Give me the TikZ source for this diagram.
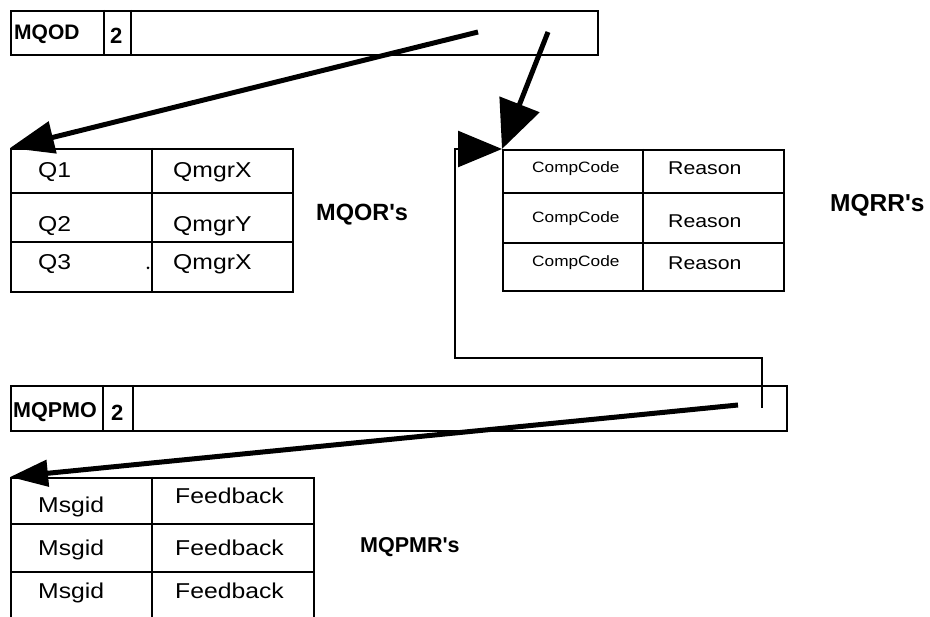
\documentclass[tikz,border=0pt]{standalone}
\usepackage{fontspec}
\setmainfont{Liberation Sans}[FakeStretch=1.15,BoldFeatures={FakeStretch=1.0}]
\usetikzlibrary{arrows.meta}
\tikzset{
  frame/.style={draw,line width=2.4pt,inner sep=0pt,anchor=north west},
  rule/.style={line width=2.4pt},
  txt/.style={anchor=base west,inner sep=0pt},
  big/.style={font=\fontsize{21.5}{25}\selectfont},
  mid/.style={font=\fontsize{18.5}{22}\selectfont},
  small/.style={font=\fontsize{15}{18}\selectfont},
  hdr/.style={font=\bfseries\fontsize{#1}{25}\selectfont},
  hdr/.default=21,
  ptr/.style={line width=5pt,-{Triangle[length=44pt,width=32pt]}},
}
\begin{document}
\begin{tikzpicture}[x=1pt,y=-1pt]
\useasboundingbox (0,0) rectangle (930,617);
% descriptor boxes
\node[frame,minimum width=587,minimum height=44] (mqod) at (10,10) {};
\draw[rule] (104,10) -- (104,54) (131,10) -- (131,54);
\node[txt,hdr] (odname) at (14,40) {MQOD};
\node[txt,hdr=22] (odcount) at (110,44) {2};
\node[frame,minimum width=776,minimum height=45] (mqpmo) at (10,385) {};
\draw[rule] (103,385) -- (103,430) (133,385) -- (133,430);
\node[txt,hdr=21.5] (pmoname) at (13,418) {MQPMO};
\node[txt,hdr=22] (pmocount) at (111,421) {2};
% MQOR's
\node[frame,minimum width=282,minimum height=143] (mqor) at (10,148) {};
\draw[rule] (152,148) -- (152,291);
\foreach \y in {193,242} \draw[rule] (10,\y) -- (292,\y);
\foreach \y/\q/\m in {178/1/X,232/2/Y,270/3/X}
{
  \node[txt,big] (objq\q) at (38,\y) {Q\q};
  \node[txt,big] (objm\q) at (173,\y) {Qmgr\m};
}
\fill (148,268) circle (1.5);
\node[txt,hdr=23.5] (orlabel) at (316,221) {MQOR\textquotesingle s};
% MQRR's
\node[frame,minimum width=281,minimum height=141] (mqrr) at (502,149) {};
\draw[rule] (643,149) -- (643,290);
\foreach \y in {193,243} \draw[rule] (502,\y) -- (783,\y);
\foreach \a/\b/\n in {173/175/1,223/228/2,267/270/3}
{
  \node[txt,small] (rrcc\n) at (532,\a) {CompCode};
  \node[txt,mid] (rrrs\n) at (668,\b) {Reason};
}
\node[txt,hdr=24.5] (rrlabel) at (830,212) {MQRR\textquotesingle s};
% MQPMR's
\node[frame,minimum width=303,minimum height=142] (mqpmr) at (10,477) {};
\draw[rule] (152,477) -- (152,619);
\foreach \y in {524,572} \draw[rule] (10,\y) -- (313,\y);
\foreach \a/\b/\n in {513/504/1,556/556/2,599/599/3}
{
  \node[txt,big] (pmid\n) at (38,\a) {Msgid};
  \node[txt,big] (pmfb\n) at (175,\b) {Feedback};
}
\node[txt,hdr=21.5] (pmrlabel) at (360,553) {MQPMR\textquotesingle s};
% pointers
\coordinate (odA) at (478,32);
\coordinate (odB) at (548,32);
\coordinate (pmoA) at (738,405);
\coordinate (pmoB) at (762,408);
\draw[ptr] (odA) -- (mqor.north west);
\draw[ptr,-{Triangle[length=48pt,width=42pt]}] (odB) -- (mqrr.north west);
\draw[ptr,-{Triangle[length=38pt,width=26pt]}] (pmoA) -- (mqpmr.north west);
\draw[line width=2.5pt,-{Triangle[length=44pt,width=36pt]}] (pmoB) |- (455,358) |- (mqrr.north west);
\end{tikzpicture}
\end{document}
